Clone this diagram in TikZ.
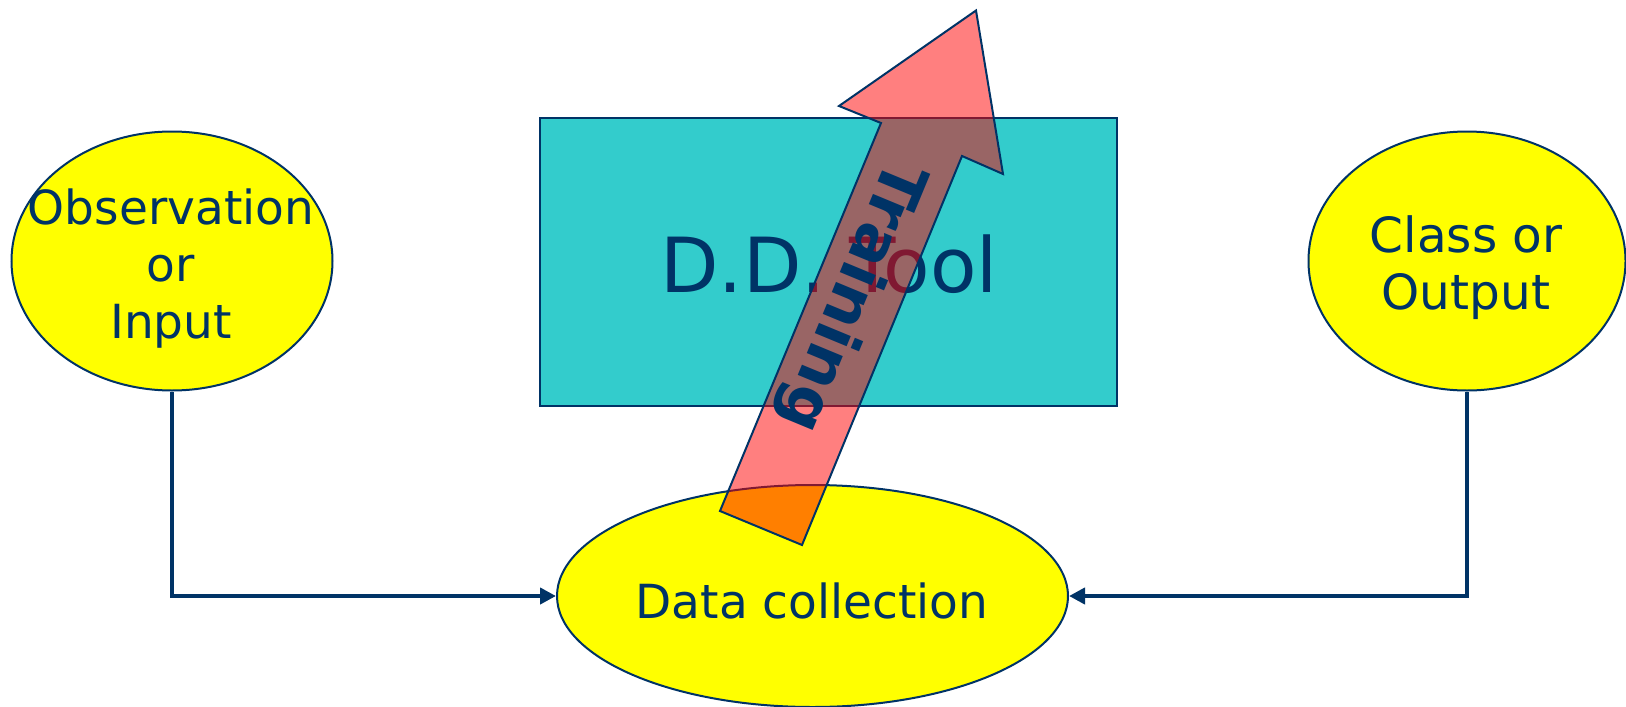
\documentclass[tikz,border=0pt]{standalone}
\usepackage{fontspec}
\setmainfont{DejaVu Sans}
\usetikzlibrary{shapes.geometric,arrows.meta}
\definecolor{navy}{RGB}{0,51,102}
\definecolor{toolfill}{RGB}{51,204,204}
\definecolor{yel}{RGB}{255,255,0}
\begin{document}
\begin{tikzpicture}[x=1pt,y=-1pt,
  yelbox/.style={ellipse,draw=navy,line width=2pt,fill=yel,inner sep=0pt},
  lbl/.style={text=navy,font=\fontsize{47}{57}\selectfont,align=center,inner sep=0pt},
  conn/.style={draw=navy,line width=4pt,-{Triangle[length=16pt,width=16pt]}},
  trainarrow/.style={draw=navy,line width=2pt,fill=red,fill opacity=0.5,line join=miter}]
\useasboundingbox (0,0) rectangle (1626,707);
\fill[white] (0,0) rectangle (1626,707);
% tool box
\node[draw=navy,line width=2pt,fill=toolfill,minimum width=577pt,minimum height=288pt,inner sep=0pt,anchor=north west] (tool) at (539,117) {};
\node[text=navy,font=\fontsize{76}{80}\selectfont,inner sep=0pt,anchor=base] (tooltext) at (829,292) {D.D. Tool};
% ellipses
\node[yelbox,minimum width=321pt,minimum height=259pt] (obs) at (172,261) {};
\node[yelbox,minimum width=317pt,minimum height=259pt] (cls) at (1467,261) {};
\node[yelbox,minimum width=511pt,minimum height=222pt] (dc) at (812.5,596) {};
\node[lbl] (obstext) at (171,269) {Observation\\or\\Input};
\node[lbl,font=\fontsize{48.5}{57}\selectfont] (clstext) at (1466,268) {Class or\\Output};
\node[lbl,anchor=base] (dctext) at (812,618) {Data collection};
% connectors
\draw[conn] (obs.south) |- (dc.west);
\draw[conn] (cls.south) |- (dc.east);
% training arrow
\coordinate (tip) at (976,10.5);
\coordinate (rb) at (1003,174);
\coordinate (rs) at (962,156);
\coordinate (br) at (802,545);
\coordinate (bl) at (720,511);
\coordinate (ls) at (881,123);
\coordinate (lb) at (839,106);
\draw[trainarrow] (lb) -- (tip) -- (rb) -- (rs) -- (br) -- (bl) -- (ls) -- cycle;
\node[text=navy,font=\bfseries\fontsize{63}{66}\selectfont,rotate=-112.5,inner sep=0pt,anchor=base west] (train) at (889,156) {Training};
\end{tikzpicture}
\end{document}
